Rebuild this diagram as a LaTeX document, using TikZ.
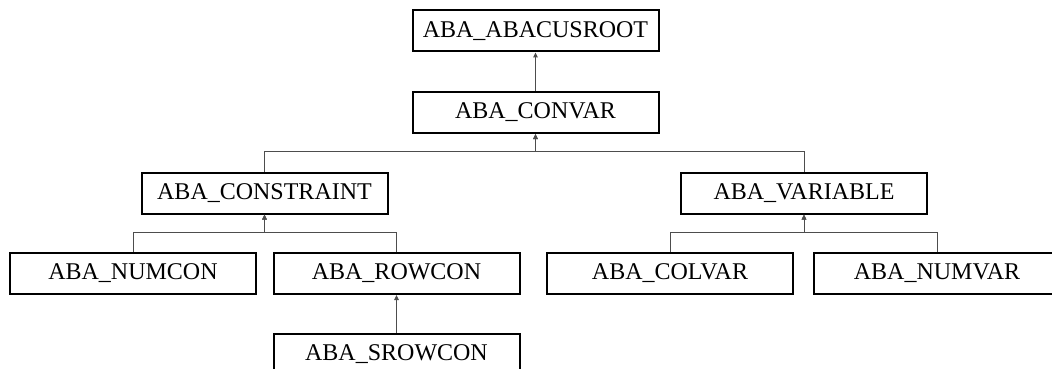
\documentclass[tikz,border=0pt]{standalone}
\usepackage{fontspec}
\setmainfont{Liberation Serif}
\usepackage{tikz}
\usetikzlibrary{arrows.meta}
\definecolor{edgegray}{HTML}{4D4D4D}
\tikzset{
  classbox/.style={
    draw=black,
    line width=2pt,
    fill=white,
    minimum width=246pt,
    minimum height=41pt,
    inner sep=0pt,
    font=\fontsize{24}{28}\selectfont
  },
  inherit/.style={
    -{Triangle[length=5pt,width=4.5pt]},
    line width=1pt,
    color=edgegray
  }
}
\begin{document}
\begin{tikzpicture}[x=1pt, y=-1pt]
  \useasboundingbox (0,0) rectangle (1052,369);
  \clip (0,0) rectangle (1052,369);

  % Classes
  \node[classbox] (root) at (535.5, 31) {ABA\_ABACUSROOT};
  \node[classbox] (convar) at (535.5, 112.5) {ABA\_CONVAR};
  \node[classbox] (constraint) at (264.5, 193) {ABA\_CONSTRAINT};
  \node[classbox] (variable) at (804, 193) {ABA\_VARIABLE};
  \node[classbox] (numcon) at (133, 273.5) {ABA\_NUMCON};
  \node[classbox] (rowcon) at (396.5, 273.5) {ABA\_ROWCON};
  \node[classbox] (colvar) at (670, 273.5) {ABA\_COLVAR};
  \node[classbox] (numvar) at (937, 273.5) {ABA\_NUMVAR};
  \node[classbox] (srowcon) at (396.5, 354) {ABA\_SROWCON};

  % Inheritance
  \draw[inherit] (convar.north) -- (root.south);
  \draw[inherit] (constraint.north) -- ++(0,-20) -| (convar.south);
  \draw[inherit] (variable.north) -- ++(0,-20) -| (convar.south);
  \draw[inherit] (numcon.north) -- ++(0,-20) -| (constraint.south);
  \draw[inherit] (rowcon.north) -- ++(0,-20) -| (constraint.south);
  \draw[inherit] (colvar.north) -- ++(0,-20) -| (variable.south);
  \draw[inherit] (numvar.north) -- ++(0,-20) -| (variable.south);
  \draw[inherit] (srowcon.north) -- (rowcon.south);
\end{tikzpicture}
\end{document}
